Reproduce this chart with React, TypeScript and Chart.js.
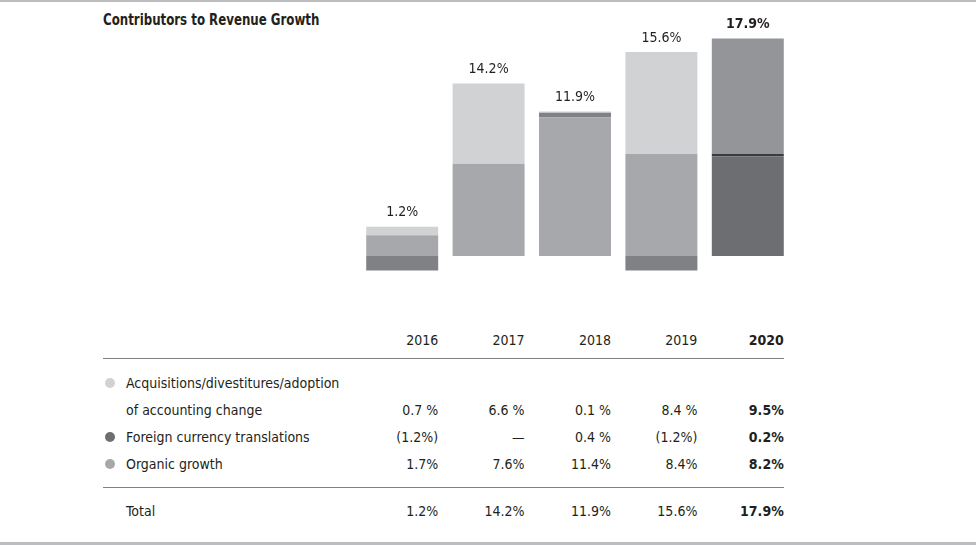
import React, { useEffect, useRef } from "react";
import { Chart, registerables } from "chart.js";

Chart.register(...registerables);

const years = ["2016", "2017", "2018", "2019", "2020"];
const acquisitions = [0.7, 6.6, 0.1, 8.4, 9.5];
const foreignCurrency = [-1.2, 0, 0.4, -1.2, 0.2];
const organic = [1.7, 7.6, 11.4, 8.4, 8.2];
const totals = [1.2, 14.2, 11.9, 15.6, 17.9];

const totalLabels = ["1.2%", "14.2%", "11.9%", "15.6%", "17.9%"];
const acqLabels = ["0.7 %", "6.6 %", "0.1 %", "8.4 %", "9.5%"];
const fxLabels = ["(1.2%)", "—", "0.4 %", "(1.2%)", "0.2%"];
const organicLabels = ["1.7%", "7.6%", "11.4%", "8.4%", "8.2%"];

const FONT = '"Liberation Sans Narrow", "DejaVu Sans Condensed", "Arial Narrow", sans-serif';

const C_LIGHT = "#d1d2d4";
const C_MID = "#a7a8ab";
const C_DARK = "#808184";

const CHART_LEFT = 359;
const CHART_WIDTH = 432;
const COL_W = CHART_WIDTH / 5;

function App() {
  const ref = useRef<HTMLCanvasElement | null>(null);

  useEffect(() => {
    if (!ref.current) return;
    const totalsPlugin = {
      id: "totals",
      afterDatasetsDraw(chart: any) {
        const { ctx, scales } = chart;
        ctx.save();
        ctx.textAlign = "center";
        ctx.textBaseline = "bottom";
        ctx.fillStyle = "#231f20";
        years.forEach((_, i) => {
          const pos =
            Math.max(organic[i], 0) + Math.max(foreignCurrency[i], 0) + Math.max(acquisitions[i], 0);
          const x = scales.x.getPixelForValue(i);
          const y = scales.y.getPixelForValue(pos);
          ctx.font = (i === 4 ? "bold " : "") + "14px " + FONT;
          ctx.fillText(totalLabels[i], x, y - 7);
        });
        ctx.restore();
      },
    };
    const chart = new Chart(ref.current, {
      type: "bar",
      data: {
        labels: years,
        datasets: [
          {
            label: "Organic growth",
            data: organic,
            backgroundColor: [C_MID, C_MID, C_MID, C_MID, "#6d6e71"],
            borderWidth: 0,
          },
          {
            label: "Foreign currency translations",
            data: foreignCurrency,
            backgroundColor: [C_DARK, C_DARK, C_DARK, C_DARK, "#3b3b3d"],
            borderWidth: 0,
          },
          {
            label: "Acquisitions/divestitures/adoption of accounting change",
            data: acquisitions,
            backgroundColor: [C_LIGHT, C_LIGHT, C_LIGHT, C_LIGHT, "#939598"],
            borderWidth: 0,
          },
        ],
      },
      options: {
        animation: false,
        responsive: false,
        devicePixelRatio: 1,
        layout: { padding: 0 },
        plugins: { legend: { display: false }, tooltip: { enabled: false } },
        datasets: { bar: { categoryPercentage: 1, barPercentage: 0.833 } },
        scales: {
          x: { stacked: true, display: false },
          y: { stacked: true, display: false, min: -1.975, max: 21.07 },
        },
      },
      plugins: [totalsPlugin],
    });
    return () => chart.destroy();
  }, []);

  const textBase: React.CSSProperties = {
    position: "absolute",
    fontFamily: FONT,
    fontSize: 14,
    color: "#231f20",
    lineHeight: "16px",
    whiteSpace: "nowrap",
  };

  const valueCells = (labels: string[], top: number, boldLast = true) =>
    labels.map((t, i) => (
      <div
        key={i}
        style={{
          ...textBase,
          top,
          left: CHART_LEFT + COL_W * i,
          width: COL_W * 0.5 + 36,
          textAlign: "right",
          fontWeight: boldLast && i === 4 ? "bold" : "normal",
        }}
      >
        {t}
      </div>
    ));

  const dot = (color: string, cy: number) => (
    <div
      style={{
        position: "absolute",
        left: 105,
        top: cy - 5,
        width: 10,
        height: 10,
        borderRadius: 5,
        background: color,
      }}
    />
  );

  return (
    <div
      style={{
        position: "absolute",
        left: 0,
        top: 0,
        width: 976,
        height: 545,
        background: "#fff",
        overflow: "hidden",
      }}
    >
      <div style={{ position: "absolute", left: 0, top: 0, width: 976, height: 2, background: "#bcbdc0" }} />
      <div style={{ position: "absolute", left: 0, top: 542, width: 976, height: 3, background: "#bcbdc0" }} />
      <div
        style={{
          ...textBase,
          left: 103,
          top: 10,
          fontSize: 16,
          fontWeight: "bold",
          lineHeight: "19px",
          transform: "scaleX(0.82)",
          transformOrigin: "0 0",
        }}
      >
        Contributors to Revenue Growth
      </div>
      <canvas
        ref={ref}
        width={CHART_WIDTH}
        height={280}
        style={{ position: "absolute", left: CHART_LEFT, top: 0, width: CHART_WIDTH, height: 280 }}
      />
      {valueCells(years, 332)}
      <div style={{ position: "absolute", left: 103, top: 358, width: 681, height: 1, background: "#808184" }} />
      {dot(C_LIGHT, 383)}
      <div style={{ ...textBase, left: 126, top: 375 }}>Acquisitions/divestitures/adoption</div>
      <div style={{ ...textBase, left: 126, top: 402 }}>of accounting change</div>
      {valueCells(acqLabels, 402)}
      {dot("#6d6e71", 437)}
      <div style={{ ...textBase, left: 126, top: 429 }}>Foreign currency translations</div>
      {valueCells(fxLabels, 429)}
      {dot(C_MID, 464)}
      <div style={{ ...textBase, left: 126, top: 456 }}>Organic growth</div>
      {valueCells(organicLabels, 456)}
      <div style={{ position: "absolute", left: 103, top: 487, width: 681, height: 1, background: "#808184" }} />
      <div style={{ ...textBase, left: 126, top: 503 }}>Total</div>
      {valueCells(totalLabels, 503)}
    </div>
  );
}

export default App;
